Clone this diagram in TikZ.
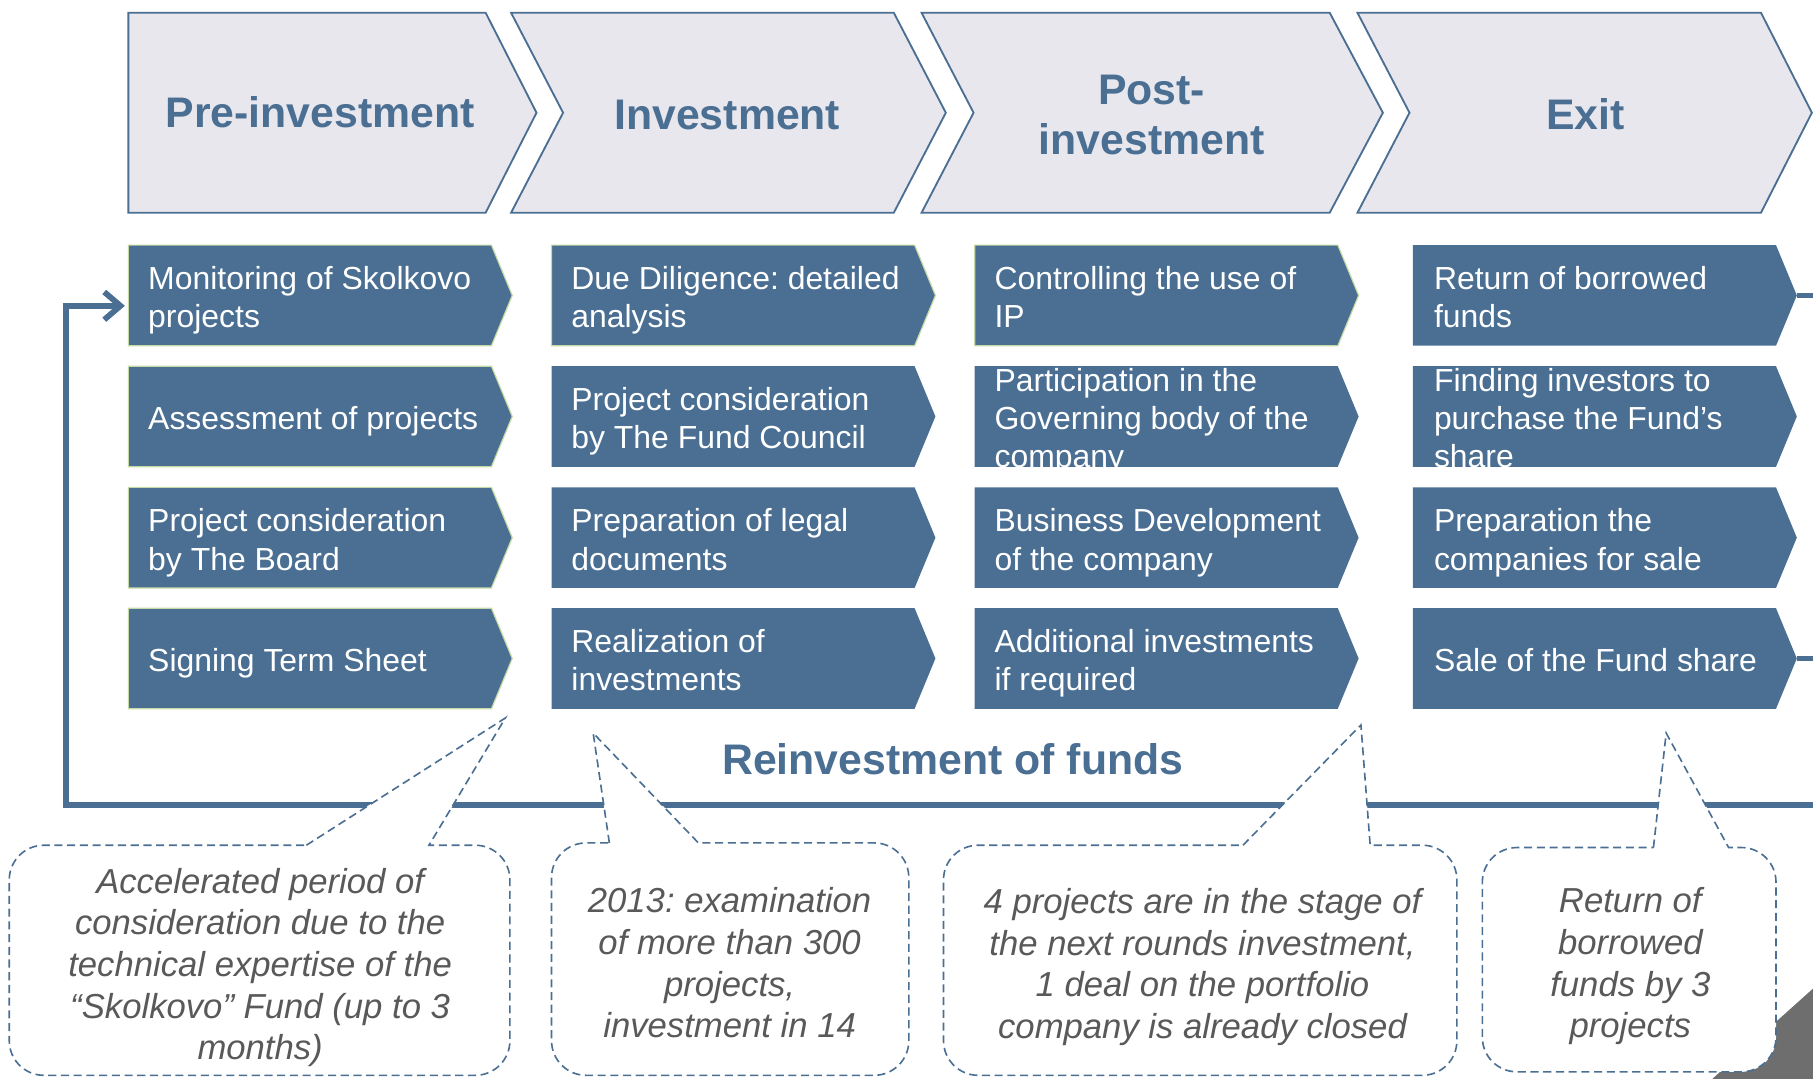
\documentclass[tikz,border=0pt]{standalone}
\usepackage{fontspec}
\setmainfont{Liberation Sans}
\frenchspacing
\usetikzlibrary{arrows.meta}
\definecolor{sblue}{HTML}{4A6F93}
\definecolor{chevfill}{HTML}{E9E7EE}
\definecolor{cgray}{HTML}{595959}
\definecolor{pgreen}{HTML}{C5D9A5}
\definecolor{curl}{HTML}{6E6E6E}
\newcommand{\bs}{\vrule height 21pt depth 12pt width 0pt}
\newcommand{\ns}{\vrule height 23pt depth 13pt width 0pt}
\newcommand{\hs}{\vrule height 28pt depth 16pt width 0pt}
\newcommand{\pbox}[2]{\path[#2] (#1.north west) -- (#1.north east) -- ([xshift=18pt]#1.east) -- (#1.south east) -- (#1.south west) -- cycle;}
\newcommand{\mycallout}[8]{%
  \draw[callout] (#5,#2) -- (#7,#8) -- (#6,#2) -- ({#3-30},#2) .. controls ({#3-13.4},#2) and (#3,{#2+13.4}) .. (#3,{#2+30})
   -- (#3,{#4-30}) .. controls (#3,{#4-13.4}) and ({#3-13.4},#4) .. ({#3-30},#4)
   -- ({#1+30},#4) .. controls ({#1+13.4},#4) and (#1,{#4-13.4}) .. (#1,{#4-30})
   -- (#1,{#2+30}) .. controls (#1,{#2+13.4}) and ({#1+13.4},#2) .. ({#1+30},#2) -- cycle;}
\begin{document}
\frenchspacing
\begin{tikzpicture}[x=1pt,y=-1pt,
 chev/.style={draw=sblue,line width=1.6pt,fill=chevfill},
 head/.style={text=sblue,font=\fontsize{37}{44}\selectfont\bfseries\frenchspacing,align=center,inner sep=0pt},
 boxn/.style={minimum width=314pt,minimum height=87pt,inner sep=0pt,outer sep=0pt},
 boxfill/.style={fill=sblue},
 greenedge/.style={draw=pgreen,line width=1pt},
 boxtxt/.style={text=white,font=\fontsize{27.6}{33}\selectfont\frenchspacing,align=left,inner sep=0pt,anchor=west},
 note/.style={text=cgray,font=\fontsize{30}{36}\selectfont\itshape\frenchspacing,align=center,inner sep=0pt},
 callout/.style={draw=sblue,line width=1.4pt,dash pattern=on 7pt off 4pt,fill=white},
 loopline/.style={draw=sblue,line width=5pt},
 stub/.style={draw=sblue,line width=4pt}]
\useasboundingbox (0,0) rectangle (1568,933);

% stage chevrons
\draw[chev] (111,11) -- (420,11) -- (464,97.5) -- (420,184) -- (111,184) -- cycle;
\draw[chev] (442,11) -- (773,11) -- (818,97.5) -- (773,184) -- (442,184) -- (487,97.5) -- cycle;
\draw[chev] (797,11) -- (1150,11) -- (1196,97.5) -- (1150,184) -- (797,184) -- (842,97.5) -- cycle;
\draw[chev] (1174,11) -- (1523,11) -- (1567,97.5) -- (1523,184) -- (1174,184) -- (1219,97.5) -- cycle;
\node[head] (h1) at (277,104) {\hs Pre-investment};
\node[head] (h2) at (629,106) {\hs Investment};
\node[head] (h3) at (996,106) {\hs Post-\\\hs investment};
\node[head] (h4) at (1371,106) {\hs Exit};

% step boxes
\foreach \c/\x in {1/268,2/634,3/1000,4/1379}{
  \foreach \r/\y in {1/255.5,2/360.2,3/465,4/569.5}{
    \node[boxn] (b\c\r) at (\x,\y) {};
    \pbox{b\c\r}{boxfill}
  }
}
\foreach \n in {b11,b12,b13,b14,b21,b31}{\pbox{\n}{greenedge}}

\node[boxtxt] (t11) at ([xshift=17pt,yshift=-7pt]b11.west) {\bs Monitoring of Skolkovo\\\bs projects};
\node[boxtxt] (t12) at ([xshift=17pt,yshift=-7pt]b12.west) {\bs Assessment of projects};
\node[boxtxt] (t13) at ([xshift=17pt,yshift=-7pt]b13.west) {\bs Project consideration\\\bs by The Board};
\node[boxtxt] (t14) at ([xshift=17pt,yshift=-7pt]b14.west) {\bs Signing Term Sheet};
\node[boxtxt] (t21) at ([xshift=17pt,yshift=-7pt]b21.west) {\bs Due Diligence: detailed\\\bs analysis};
\node[boxtxt] (t22) at ([xshift=17pt,yshift=-7pt]b22.west) {\bs Project consideration\\\bs by The Fund Council};
\node[boxtxt] (t23) at ([xshift=17pt,yshift=-7pt]b23.west) {\bs Preparation of legal\\\bs documents};
\node[boxtxt] (t24) at ([xshift=17pt,yshift=-7pt]b24.west) {\bs Realization of\\\bs investments};
\node[boxtxt] (t31) at ([xshift=17pt,yshift=-7pt]b31.west) {\bs Controlling the use of\\\bs IP};
\node[boxtxt] (t32) at ([xshift=17pt,yshift=-7pt]b32.west) {\bs Participation in the\\\bs Governing body of the\\\bs company};
\node[boxtxt] (t33) at ([xshift=17pt,yshift=-7pt]b33.west) {\bs Business Development\\\bs of the company};
\node[boxtxt] (t34) at ([xshift=17pt,yshift=-7pt]b34.west) {\bs Additional investments\\\bs if required};
\node[boxtxt] (t41) at ([xshift=18pt,yshift=-7pt]b41.west) {\bs Return of borrowed\\\bs funds};
\node[boxtxt] (t42) at ([xshift=18pt,yshift=-7pt]b42.west) {\bs Finding investors to\\\bs purchase the Fund’s\\\bs share};
\node[boxtxt] (t43) at ([xshift=18pt,yshift=-7pt]b43.west) {\bs Preparation the\\\bs companies for sale};
\node[boxtxt] (t44) at ([xshift=18pt,yshift=-7pt]b44.west) {\bs Sale of the Fund share};

% reinvestment loop
\coordinate (rin) at (1572,696);
\coordinate (lc) at (57,696);
\coordinate (r1) at (1572,255.5);
\coordinate (r4) at (1572,569.5);
\draw[loopline,-{Straight Barb[length=14pt,width=24pt]},shorten >=3pt] (rin) -- (lc) |- ([yshift=-9pt]b11.west);
\draw[stub] ([xshift=18pt]b41.east) -- (r1);
\draw[stub] ([xshift=18pt]b44.east) -- (r4);
\node[head] (re) at (824,664) {\hs Reinvestment of funds};

% page curl
\fill[curl] (1568,855) -- (1481,933) -- (1568,933) -- cycle;

% callouts
\mycallout{8}{731}{441}{930}{265}{371}{437}{621}
\mycallout{477}{729}{786}{930}{527}{604}{513}{634}
\mycallout{816}{731}{1260}{930}{1075}{1185}{1177}{627}
\mycallout{1282}{733}{1536}{927}{1430}{1495}{1441}{634}
\node[note] (n1) at (225,839.5) {\ns Accelerated period of\\\ns consideration due to the\\\ns technical expertise of the\\\ns “Skolkovo” Fund (up to 3\\\ns months)};
\node[note] (n2) at (631,838.5) {\ns 2013: examination\\\ns of more than 300\\\ns projects,\\\ns investment in 14};
\node[note] (n3) at (1040,839) {\ns 4 projects are in the stage of\\\ns the next rounds investment,\\\ns 1 deal on the portfolio\\\ns company is already closed};
\node[note] (n4) at (1410,838.5) {\ns Return of\\\ns borrowed\\\ns funds by 3\\\ns projects};
\end{tikzpicture}
\end{document}
